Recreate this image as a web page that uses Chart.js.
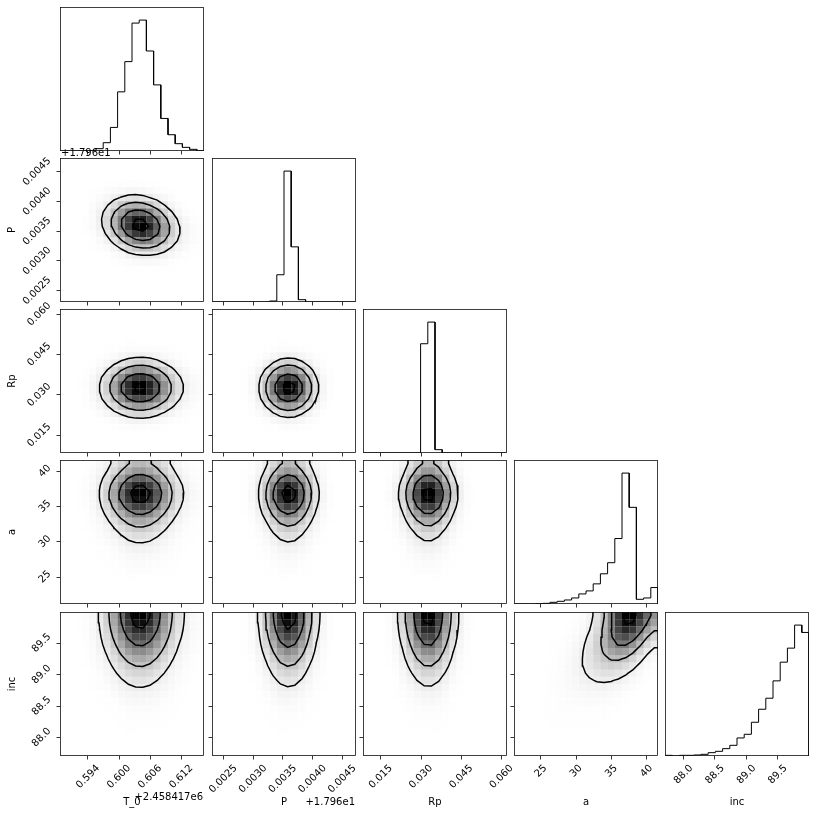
<!DOCTYPE html>
<html>
<head>
<meta charset="utf-8">
<script src="https://cdn.jsdelivr.net/npm/chart.js@4.4.1/dist/chart.umd.min.js"></script>
<style>
  html, body { margin: 0; padding: 0; background: #fff; overflow: hidden; }
  #fig { position: relative; width: 816px; height: 817px; }
  #fig canvas { position: absolute; }
</style>
</head>
<body>
<div id="fig"></div>
<script>
// parameter names and offsets shown on the axes
const labels = ['T_0', 'P', 'Rp', 'a', 'inc'];
const offsetTexts = ['+2.458417e6', '+1.796e1', '', '', ''];

// axis ranges (offset already removed)
const t0Range = [0.5886, 0.6164];
const pRange = [0.00231, 0.00473];
const rpRange = [0.0084, 0.0620];
const aRange = [21.17, 41.6];
const incRange = [87.705, 89.995];

const t0Ticks = [0.594, 0.600, 0.606, 0.612];
const pTicks = [0.0025, 0.0030, 0.0035, 0.0040, 0.0045];
const rpTicks = [0.015, 0.030, 0.045, 0.060];
const aTicks = [25, 30, 35, 40];
const incTicks = [88.0, 88.5, 89.0, 89.5];
const tickDecimals = [3, 4, 3, 0, 1];

// 20-bin marginal histograms
const t0Counts = [0, 0, 0, 0, 1, 7, 25, 71, 178, 269, 385, 394, 301, 199, 98, 49, 22, 11, 5, 1];
const pCounts = [0, 0, 0, 0, 0, 0, 0, 0, 3, 82, 394, 166, 7, 0, 0, 0, 0, 0, 0, 0];
const rpCounts = [0, 0, 0, 0, 0, 0, 0, 0, 328, 393, 10, 0, 0, 0, 0, 0, 0, 0, 0, 0];
const aCounts = [0, 0, 0, 1, 2, 5, 8, 12, 18, 30, 39, 60, 90, 123, 195, 390, 288, 14, 18, 49];
const incCounts = [2, 0, 2, 2, 3, 5, 10, 14, 22, 32, 54, 65, 101, 140, 173, 225, 281, 323, 392, 370];

// correlation of the visibly tilted pairs [xVar, yVar, rho]
const pairRho = [[0, 1, -0.85], [3, 4, 0.8]];
const smoothBins = 2;
const sigmaLevels = [0.5, 1, 1.5, 2];

const ranges = [t0Range, pRange, rpRange, aRange, incRange];
const allTicks = [t0Ticks, pTicks, rpTicks, aTicks, incTicks];
const allCounts = [t0Counts, pCounts, rpCounts, aCounts, incCounts];

// panel grid in page pixels
const colLeft = [60, 212, 363, 514, 665];
const rowTop = [7, 158, 309, 460, 612];
const SIZE = 144;

Chart.defaults.font.family = "'DejaVu Sans'";
Chart.defaults.font.size = 10;
Chart.defaults.color = '#000';

const mctx = document.createElement('canvas').getContext('2d');
mctx.font = "10px 'DejaVu Sans'";
const textW = s => mctx.measureText(s).width;

function edges(v) {
  const [lo, hi] = ranges[v];
  const out = [];
  for (let i = 0; i <= 20; i++) out.push(lo + (hi - lo) * i / 20);
  return out;
}

function normInv(p) {
  const a = [-39.69683028665376, 220.9460984245205, -275.9285104469687, 138.3577518672690, -30.66479806614716, 2.506628277459239];
  const b = [-54.47609879822406, 161.5858368580409, -155.6989798598866, 66.80131188771972, -13.28068155288572];
  const c = [-0.007784894002430293, -0.3223964580411365, -2.400758277161838, -2.549732539343734, 4.374664141464968, 2.938163982698783];
  const d = [0.007784695709041462, 0.3224671290700398, 2.445134137142996, 3.754408661907416];
  const tail = q => (((((c[0] * q + c[1]) * q + c[2]) * q + c[3]) * q + c[4]) * q + c[5]) / ((((d[0] * q + d[1]) * q + d[2]) * q + d[3]) * q + 1);
  if (p < 0.02425) return tail(Math.sqrt(-2 * Math.log(p)));
  if (p > 1 - 0.02425) return -tail(Math.sqrt(-2 * Math.log(1 - p)));
  const q = p - 0.5, r = q * q;
  return (((((a[0] * r + a[1]) * r + a[2]) * r + a[3]) * r + a[4]) * r + a[5]) * q / (((((b[0] * r + b[1]) * r + b[2]) * r + b[3]) * r + b[4]) * r + 1);
}

// normal scores of each bin, used to couple two marginals
function scores(counts) {
  const N = counts.reduce((s, n) => s + n, 0);
  let cum = 0;
  return counts.map(n => {
    const p = (cum + n / 2) / N;
    cum += n;
    return normInv(Math.min(Math.max(p, 1e-6), 1 - 1e-6));
  });
}

function rhoFor(xv, yv) {
  const hit = pairRho.find(p => p[0] === xv && p[1] === yv);
  return hit ? hit[2] : 0;
}

function gaussSmooth(H, s) {
  const n = H.length, r = Math.floor(4 * s + 0.5);
  const k = [];
  for (let t = -r; t <= r; t++) k.push(Math.exp(-0.5 * t * t / (s * s)));
  const ks = k.reduce((a, b) => a + b, 0);
  const refl = i => { const P = 2 * n; i = ((i % P) + P) % P; return i < n ? i : P - 1 - i; };
  const A = H.map(row => row.map(() => 0));
  for (let i = 0; i < n; i++) for (let j = 0; j < n; j++) {
    let acc = 0;
    for (let t = -r; t <= r; t++) acc += k[t + r] * H[refl(i + t)][j];
    A[i][j] = acc / ks;
  }
  const B = H.map(row => row.map(() => 0));
  for (let i = 0; i < n; i++) for (let j = 0; j < n; j++) {
    let acc = 0;
    for (let t = -r; t <= r; t++) acc += k[t + r] * A[i][refl(j + t)];
    B[i][j] = acc / ks;
  }
  return B;
}

function hist2d(xv, yv) {
  const cx = allCounts[xv], cy = allCounts[yv];
  const zx = scores(cx), zy = scores(cy), rho = rhoFor(xv, yv);
  const H = [];
  for (let i = 0; i < 20; i++) {
    H.push([]);
    for (let j = 0; j < 20; j++) {
      const a = zx[i], b = zy[j];
      const cop = Math.exp(-(rho * rho * (a * a + b * b) - 2 * rho * a * b) / (2 * (1 - rho * rho))) / Math.sqrt(1 - rho * rho);
      H[i].push(cx[i] * cy[j] * cop);
    }
  }
  return gaussSmooth(H, smoothBins);
}

function levelsFor(H) {
  const flat = H.flat().sort((a, b) => b - a);
  const tot = flat.reduce((a, b) => a + b, 0);
  let cum = 0;
  const sm = flat.map(v => (cum += v) / tot);
  const V = sigmaLevels.map(s => 1 - Math.exp(-0.5 * s * s)).map(v0 => {
    let last = null;
    for (let k = 0; k < sm.length; k++) if (sm[k] <= v0) last = flat[k];
    return last === null ? flat[0] : last;
  });
  V.sort((a, b) => a - b);
  for (let k = 1; k < V.length; k++) if (V[k] === V[k - 1]) V[k - 1] *= 1 - 1e-4;
  return V;
}

function padGrid(H, xe, ye) {
  const n = H.length, m = n + 4;
  const hmin = Math.min(...H.flat());
  const Z = [];
  for (let i = 0; i < m; i++) Z.push(new Array(m).fill(hmin));
  for (let i = 0; i < n; i++) for (let j = 0; j < n; j++) Z[i + 2][j + 2] = H[i][j];
  for (let j = 0; j < n; j++) { Z[1][j + 2] = H[0][j]; Z[n + 2][j + 2] = H[n - 1][j]; }
  for (let i = 0; i < n; i++) { Z[i + 2][1] = H[i][0]; Z[i + 2][n + 2] = H[i][n - 1]; }
  Z[1][1] = H[0][0]; Z[1][n + 2] = H[0][n - 1]; Z[n + 2][1] = H[n - 1][0]; Z[n + 2][n + 2] = H[n - 1][n - 1];
  const centers = e => {
    const c = [];
    for (let i = 0; i < n; i++) c.push((e[i] + e[i + 1]) / 2);
    const d = c[1] - c[0];
    return [c[0] - 2 * d, c[0] - d, ...c, c[n - 1] + d, c[n - 1] + 2 * d];
  };
  return { Z, X: centers(xe), Y: centers(ye) };
}

// marching squares, chained into polylines
function contourLines(Z, X, Y, L) {
  const pts = {}, adj = {};
  const ep = (key, xa, ya, va, xb, yb, vb) => {
    if (!pts[key]) { const t = (L - va) / (vb - va); pts[key] = { x: xa + t * (xb - xa), y: ya + t * (yb - ya) }; }
    return key;
  };
  const link = (p, q) => { (adj[p] = adj[p] || []).push(q); (adj[q] = adj[q] || []).push(p); };
  const n = X.length;
  for (let i = 0; i < n - 1; i++) for (let j = 0; j < n - 1; j++) {
    const v0 = Z[i][j], v1 = Z[i + 1][j], v2 = Z[i + 1][j + 1], v3 = Z[i][j + 1];
    const idx = (v0 > L ? 1 : 0) | (v1 > L ? 2 : 0) | (v2 > L ? 4 : 0) | (v3 > L ? 8 : 0);
    if (idx === 0 || idx === 15) continue;
    const B = () => ep('h' + i + ',' + j, X[i], Y[j], v0, X[i + 1], Y[j], v1);
    const R = () => ep('v' + (i + 1) + ',' + j, X[i + 1], Y[j], v1, X[i + 1], Y[j + 1], v2);
    const T = () => ep('h' + i + ',' + (j + 1), X[i], Y[j + 1], v3, X[i + 1], Y[j + 1], v2);
    const Lt = () => ep('v' + i + ',' + j, X[i], Y[j], v0, X[i], Y[j + 1], v3);
    const mid = (v0 + v1 + v2 + v3) / 4 > L;
    switch (idx) {
      case 1: case 14: link(Lt(), B()); break;
      case 2: case 13: link(B(), R()); break;
      case 3: case 12: link(Lt(), R()); break;
      case 4: case 11: link(R(), T()); break;
      case 6: case 9: link(B(), T()); break;
      case 7: case 8: link(Lt(), T()); break;
      case 5:
        if (mid) { link(B(), R()); link(T(), Lt()); } else { link(Lt(), B()); link(R(), T()); }
        break;
      case 10:
        if (mid) { link(Lt(), B()); link(R(), T()); } else { link(B(), R()); link(T(), Lt()); }
        break;
    }
  }
  const used = new Set(), lines = [];
  const walk = start => {
    const line = [start];
    used.add(start);
    let cur = start;
    for (;;) {
      const nxt = (adj[cur] || []).find(k => !used.has(k));
      if (!nxt) break;
      used.add(nxt); line.push(nxt); cur = nxt;
    }
    return line;
  };
  for (const k in adj) if (!used.has(k) && adj[k].length === 1) lines.push(walk(k));
  for (const k in adj) if (!used.has(k)) { const l = walk(k); l.push(l[0]); lines.push(l); }
  return lines.map(l => l.map(k => pts[k]));
}

// grey density cells, darker where the smoothed 2D histogram is higher
function densityPlugin(H, xe, ye) {
  const flat = H.flat();
  const hmax = Math.max(...flat), hmin = Math.min(...flat);
  return {
    id: 'density',
    beforeDatasetsDraw(chart) {
      const { ctx, chartArea: ca, scales: { x, y } } = chart;
      ctx.save();
      ctx.beginPath();
      ctx.rect(ca.left, ca.top, ca.width, ca.height);
      ctx.clip();
      for (let i = 0; i < 20; i++) for (let j = 0; j < 20; j++) {
        const h = Math.pow((H[i][j] - hmin) / (hmax - hmin), 1.25);
        ctx.fillStyle = `rgba(0,0,0,${h.toFixed(4)})`;
        const x0 = x.getPixelForValue(xe[i]), x1 = x.getPixelForValue(xe[i + 1]);
        const y0 = y.getPixelForValue(ye[j]), y1 = y.getPixelForValue(ye[j + 1]);
        ctx.fillRect(x0, y1, x1 - x0, y0 - y1);
      }
      ctx.restore();
    }
  };
}

const framePlugin = {
  id: 'frame',
  afterDatasetsDraw(chart) {
    const { ctx, chartArea: ca } = chart;
    ctx.save();
    ctx.strokeStyle = '#111';
    ctx.lineWidth = 0.8;
    ctx.strokeRect(ca.left + 0.5, ca.top + 0.5, ca.width - 1, ca.height - 1);
    ctx.restore();
  }
};

function offsetPlugin(text, where) {
  return {
    id: 'offsetText',
    afterDraw(chart) {
      const { ctx, chartArea: ca } = chart;
      ctx.save();
      ctx.font = "10px 'DejaVu Sans'";
      ctx.fillStyle = '#000';
      if (where === 'x') {
        ctx.textAlign = 'right';
        ctx.fillText(text, ca.right - 1, ca.bottom + (text.length > 9 ? 44 : 49));
      } else {
        ctx.textAlign = 'left';
        ctx.fillText(text, ca.left + 1, ca.top - 2.5);
      }
      ctx.restore();
    }
  };
}

function xAxis(v, show, mb) {
  const fmt = t => t.toFixed(tickDecimals[v]);
  const w = textW(fmt(allTicks[v][0]));
  return {
    type: 'linear', min: ranges[v][0], max: ranges[v][1],
    afterFit: s => { s.height = mb; },
    afterBuildTicks: s => { s.ticks = allTicks[v].map(t => ({ value: t })); },
    grid: { drawOnChartArea: false, drawTicks: true, tickLength: 3.5, tickColor: '#000', tickWidth: 0.8 },
    border: { display: false },
    ticks: { display: show, autoSkip: false, minRotation: 45, maxRotation: 45, padding: 3, labelOffset: 0.354 * w, callback: fmt },
    title: { display: show, text: labels[v], padding: 0 }
  };
}

function yAxis(v, show, ml) {
  const fmt = t => t.toFixed(tickDecimals[v]);
  const w = textW(fmt(allTicks[v][0]));
  return {
    type: 'linear', min: ranges[v][0], max: ranges[v][1],
    afterFit: s => { s.width = ml; },
    afterBuildTicks: s => { s.ticks = allTicks[v].map(t => ({ value: t })); },
    grid: { drawOnChartArea: false, drawTicks: true, tickLength: 3.5, tickColor: '#000', tickWidth: 0.8 },
    border: { display: false },
    ticks: { display: show, autoSkip: false, minRotation: 45, maxRotation: 45, padding: 7, labelOffset: -0.354 * w, callback: fmt },
    title: { display: show, text: labels[v], padding: 0 }
  };
}

function makePanel(r, c) {
  const ml = c === 0 ? 54 : 50, mr = 50, mt = 50, mb = r === 4 ? 52 : 50;
  const W = ml + SIZE + mr, Hh = mt + SIZE + mb;
  const cv = document.createElement('canvas');
  cv.width = W; cv.height = Hh;
  cv.style.left = (colLeft[c] - ml) + 'px';
  cv.style.top = (rowTop[r] - mt) + 'px';
  cv.style.width = W + 'px';
  cv.style.height = Hh + 'px';
  document.getElementById('fig').appendChild(cv);

  const plugins = [framePlugin];
  const datasets = [];
  let yScale;
  if (r === c) {
    const e = edges(c), n = allCounts[c];
    const pts = [{ x: e[0], y: 0 }];
    n.forEach((cnt, i) => { pts.push({ x: e[i], y: cnt }, { x: e[i + 1], y: cnt }); });
    pts.push({ x: e[20], y: 0 });
    datasets.push({ data: pts, showLine: true, borderColor: '#000', borderWidth: 1, pointRadius: 0, tension: 0 });
    yScale = {
      type: 'linear', min: 0, max: 1.1 * Math.max(...n),
      afterFit: s => { s.width = ml; },
      grid: { display: false }, border: { display: false }, ticks: { display: false }
    };
  } else {
    const xe = edges(c), ye = edges(r);
    const H = hist2d(c, r);
    plugins.push(densityPlugin(H, xe, ye));
    const { Z, X, Y } = padGrid(H, xe, ye);
    levelsFor(H).forEach(L => {
      contourLines(Z, X, Y, L).forEach(line => {
        datasets.push({ data: line, showLine: true, borderColor: '#000', borderWidth: 1.5, pointRadius: 0, tension: 0 });
      });
    });
    yScale = yAxis(r, c === 0, ml);
    if (c === 0 && offsetTexts[r]) plugins.push(offsetPlugin(offsetTexts[r], 'y'));
  }
  if (r === 4 && offsetTexts[c]) plugins.push(offsetPlugin(offsetTexts[c], 'x'));

  new Chart(cv, {
    type: 'scatter',
    data: { datasets },
    options: {
      responsive: false, animation: false, events: [], devicePixelRatio: 1,
      layout: { padding: { left: 0, top: mt, right: mr, bottom: 0 } },
      plugins: { legend: { display: false }, tooltip: { enabled: false } },
      scales: { x: xAxis(c, r === 4, mb), y: yScale }
    },
    plugins
  });
}

for (let r = 0; r < 5; r++) for (let c = 0; c <= r; c++) makePanel(r, c);
</script>
</body>
</html>
